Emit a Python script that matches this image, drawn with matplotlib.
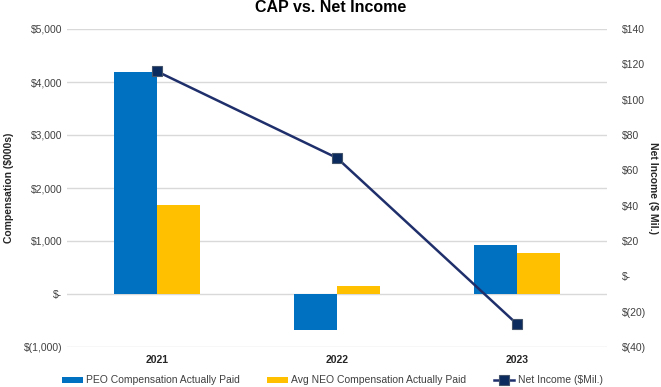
import matplotlib
matplotlib.use("Agg")
import matplotlib.pyplot as plt
import numpy as np
from matplotlib.ticker import FuncFormatter

plt.rcParams['font.family'] = ['Liberation Sans', 'DejaVu Sans']

years = ["2021", "2022", "2023"]
peo_cap = [4180, -680, 925]
neo_cap = [1670, 150, 775]
net_income = [116, 67, -27]

BLUE = "#0070C0"
YELLOW = "#FFC000"
NAVY = "#1F2F6B"

fig = plt.figure(figsize=(6.61, 3.87), dpi=100)
ax = fig.add_axes([67/661, 40/387, (607-67)/661, (347-29)/387])
ax2 = ax.twinx()

x = np.arange(len(years))
w = 0.24
b1 = ax.bar(x - w/2, peo_cap, w, color=BLUE, label="PEO Compensation Actually Paid", zorder=2)
b2 = ax.bar(x + w/2, neo_cap, w, color=YELLOW, label="Avg NEO Compensation Actually Paid", zorder=2)
ax.set_xlim(-0.5, 2.5)
ax.set_ylim(-1000, 5000)
ax.set_yticks(np.arange(-1000, 5001, 1000))

def lfmt(v, p):
    if v == 0:
        return "$-"
    if v < 0:
        return "$({:,.0f})".format(-v)
    return "${:,.0f}".format(v)

def rfmt(v, p):
    if v == 0:
        return "$-"
    if v < 0:
        return "$({:.0f})".format(-v)
    return "${:.0f}".format(v)

ax.yaxis.set_major_formatter(FuncFormatter(lfmt))
ax.grid(axis='y', color="#D9D9D9", linewidth=1, zorder=0)
ax.set_axisbelow(True)
ax.set_xticks(x)
ax.set_xticklabels(years, fontweight='bold', fontsize=7.5, color="#262626")
ax.tick_params(axis='both', length=0, labelsize=7.5, labelcolor="#404040")
ax.tick_params(axis='x', pad=6, labelcolor="#262626")
for s in ax.spines.values():
    s.set_visible(False)
for s in ax2.spines.values():
    s.set_visible(False)

ln, = ax2.plot(x, net_income, color=NAVY, linewidth=1.8, marker='s', markersize=7,
               markerfacecolor="#0B2A5E", markeredgecolor="#44546A", markeredgewidth=0.8,
               label="Net Income ($Mil.)", zorder=3)
ax2.set_ylim(-40, 140)
ax2.set_yticks(np.arange(-40, 141, 20))
ax2.yaxis.set_major_formatter(FuncFormatter(rfmt))
ax2.tick_params(axis='y', length=0, labelsize=7.5, labelcolor="#404040", pad=11)

ax.set_ylabel("Compensation ($000s)", fontweight='bold', fontsize=7.5, color="#262626", labelpad=7)
ax2.set_ylabel("Net Income ($ Mil.)", fontweight='bold', fontsize=7.5, color="#262626",
               rotation=-90, labelpad=8)

fig.text(0.5, 1.0 - 0.5/387, "CAP vs. Net Income", ha='center', va='top',
         fontweight='bold', fontsize=11.5, color="#000000")

handles = [b1, b2, ln]
leg = fig.legend(handles, [h.get_label() for h in handles], loc='lower center',
                 bbox_to_anchor=(0.503, -0.02), ncol=3, frameon=False, fontsize=7.5,
                 handlelength=2.0, handleheight=0.5, columnspacing=2.6, handletextpad=0.3)
for t in leg.get_texts():
    t.set_color("#404040")

fig.savefig("out.png", dpi=100)
